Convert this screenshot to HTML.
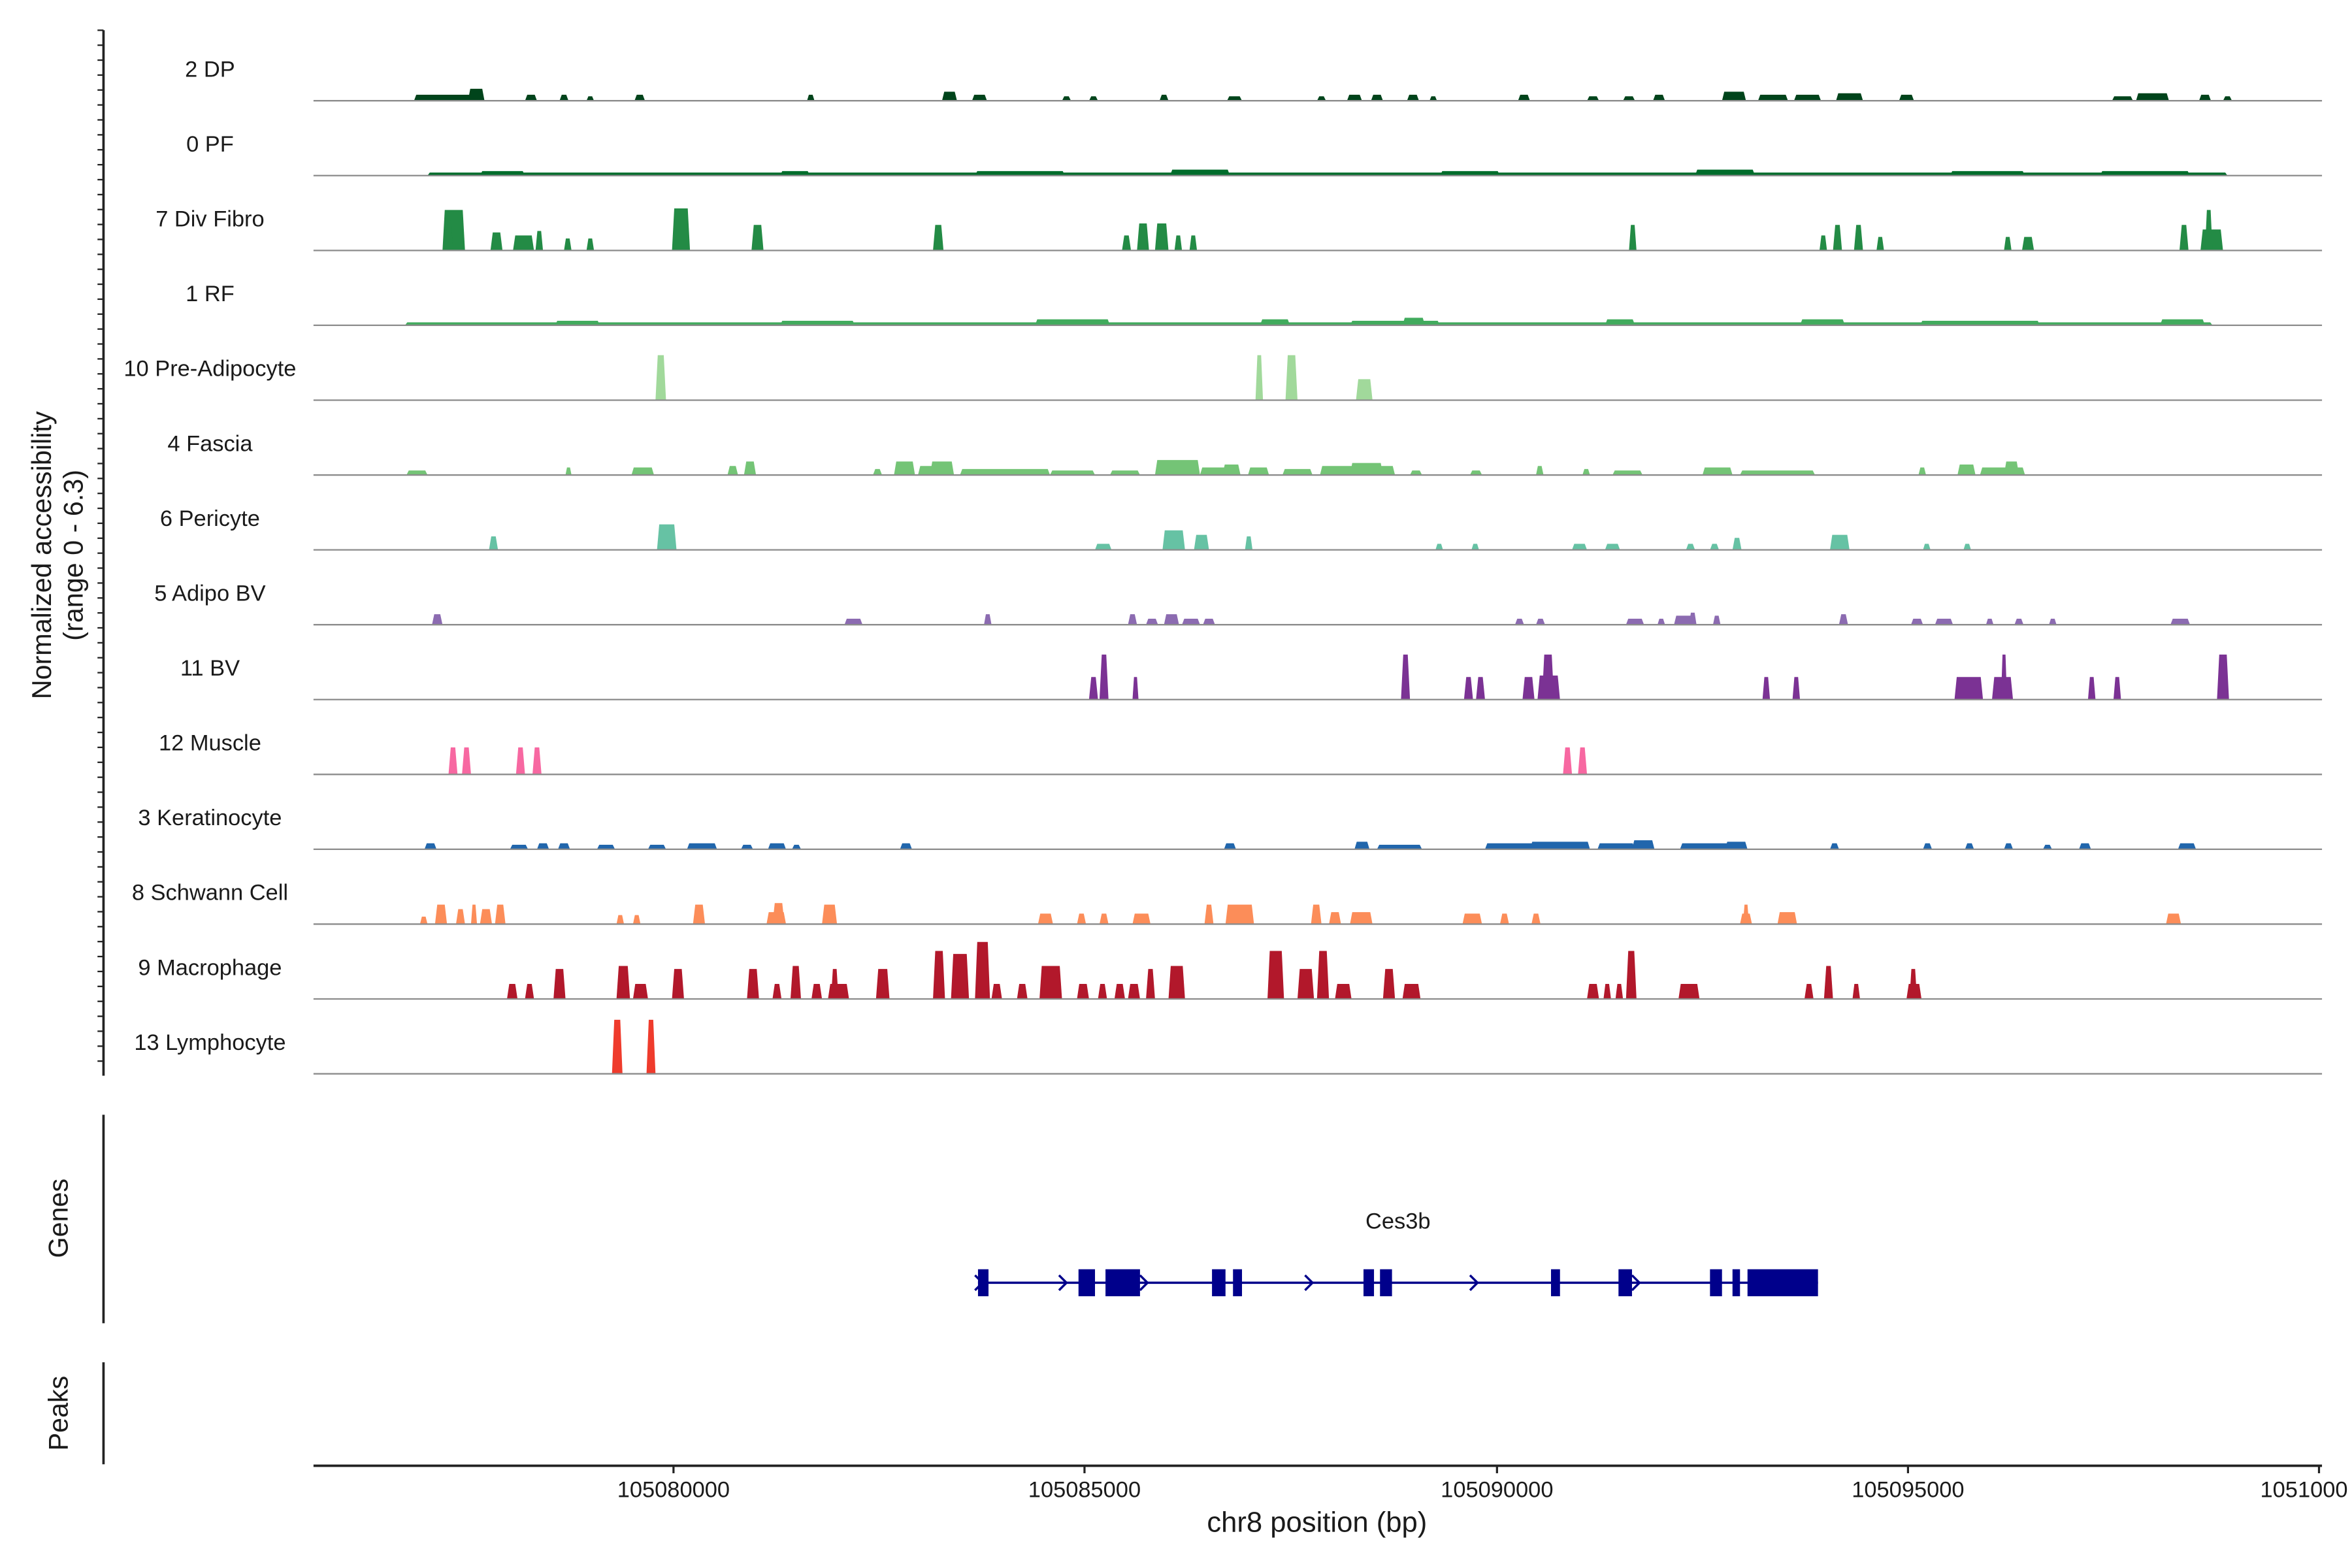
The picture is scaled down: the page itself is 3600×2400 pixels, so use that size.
<!DOCTYPE html>
<html><head><meta charset="utf-8"><style>
html,body{margin:0;padding:0;background:#fff;}
svg{display:block;}
text{font-family:"Liberation Sans",Arial,sans-serif;fill:#1a1a1a;}
</style></head><body>
<svg id="s" xmlns="http://www.w3.org/2000/svg" width="3600" height="2400" viewBox="0 0 1568 1045">
<rect width="1568" height="1045" fill="#fff"/>
<g id="tracks"></g>
<line x1="69" y1="20" x2="69" y2="717" stroke="#222" stroke-width="1.6"/>
<g id="ticks"></g>
<text transform="translate(34,370) rotate(-90)" text-anchor="middle" font-size="18">Normalized accessibility</text>
<text transform="translate(55,370) rotate(-90)" text-anchor="middle" font-size="18">(range 0 - 6.3)</text>
<line x1="69" y1="743" x2="69" y2="882" stroke="#222" stroke-width="1.6"/>
<text transform="translate(45,812) rotate(-90)" text-anchor="middle" font-size="18">Genes</text>
<line x1="69" y1="908" x2="69" y2="976" stroke="#222" stroke-width="1.6"/>
<text transform="translate(45,942) rotate(-90)" text-anchor="middle" font-size="18">Peaks</text>
<text x="932" y="819" text-anchor="middle" font-size="15">Ces3b</text>
<line x1="652" y1="855" x2="1212" y2="855" stroke="#00008b" stroke-width="1.5"/>
<g id="gene" fill="#00008b"></g>
<line x1="209" y1="977" x2="1548" y2="977" stroke="#222" stroke-width="1.6"/>
<g stroke="#222" stroke-width="1.4">
<line x1="449" y1="977" x2="449" y2="982"/><line x1="723" y1="977" x2="723" y2="982"/>
<line x1="998" y1="977" x2="998" y2="982"/><line x1="1272" y1="977" x2="1272" y2="982"/>
<line x1="1546" y1="977" x2="1546" y2="982"/></g>
<g font-size="15" text-anchor="middle">
<text x="449" y="998" fill="#4d4d4d">105080000</text><text x="723" y="998" fill="#4d4d4d">105085000</text>
<text x="998" y="998" fill="#4d4d4d">105090000</text><text x="1272" y="998" fill="#4d4d4d">105095000</text>
<text x="1536" y="998" fill="#4d4d4d">1051000</text></g>
<text x="878" y="1021" text-anchor="middle" font-size="19">chr8 position (bp)</text>
</svg>
<script>
var NS="http://www.w3.org/2000/svg";
function el(t,a,p){var e=document.createElementNS(NS,t);for(var k in a)e.setAttribute(k,a[k]);p.appendChild(e);return e;}
var T=document.getElementById("tracks");
var tracks=[
["2 DP","#00441b",[[276,47,4],[312,11,8],[350,8,4],[373,6,4],[391,5,3],[423,7,4],[538,5,4],[628,10,6],[648,10,4],[708,6,3],[726,6,3],[773,6,4],[818,10,3],[878,6,3],[898,10,4],[914,8,4],[938,8,4],[953,5,3],[1012,8,4],[1058,8,3],[1082,8,3],[1102,8,4],[1148,16,6],[1172,20,4],[1196,18,4],[1224,18,5],[1266,10,4],[1408,14,3],[1424,22,5],[1466,8,4],[1482,6,3]]],
["0 PF","#006d2c",[[285,1200,2],[320,30,3],[520,20,3],[650,60,3],[780,40,4],[960,40,3],[1130,40,4],[1300,50,3],[1400,60,3]]],
["7 Div Fibro","#238b45",[[295,15,27],[297,5,20],[327,8,12],[342,14,10],[357,5,13],[376,5,8],[391,5,8],[448,12,28],[501,8,17],[622,7,17],[748,6,10],[758,8,18],[770,9,18],[783,5,10],[793,5,10],[1086,5,17],[1213,5,10],[1222,6,17],[1236,6,17],[1251,5,9],[1336,5,9],[1348,8,9],[1453,6,17],[1467,15,14],[1470,5,27]]],
["1 RF","#41ab5d",[[270,1205,2],[370,30,3],[520,50,3],[690,50,4],[840,20,4],[900,60,3],[935,15,5],[1070,20,4],[1200,30,4],[1280,80,3],[1440,30,4]]],
["10 Pre-Adipocyte","#a1d99b",[[437,7,30],[837,5,30],[857,8,30],[904,11,14]]],
["4 Fascia","#74c476",[[271,14,3],[377,4,5],[421,15,5],[485,7,6],[496,8,9],[582,6,4],[596,14,9],[612,12,6],[620,16,9],[640,60,4],[700,30,3],[740,20,3],[770,30,10],[800,25,5],[815,12,7],[832,14,5],[855,20,4],[880,50,6],[900,22,8],[940,8,3],[980,8,3],[1024,5,6],[1055,5,4],[1075,20,3],[1135,20,5],[1160,50,3],[1279,5,5],[1305,12,7],[1320,30,5],[1336,10,9]]],
["6 Pericyte","#66c2a4",[[326,6,9],[438,13,17],[730,11,4],[775,15,13],[784,5,10],[796,10,10],[830,5,9],[957,5,4],[981,5,4],[1048,10,4],[1070,10,4],[1124,6,4],[1140,6,4],[1155,6,8],[1220,13,10],[1282,5,4],[1309,5,4]]],
["5 Adipo BV","#8c6bb1",[[288,7,7],[563,12,4],[656,5,7],[752,6,7],[764,8,4],[776,10,7],[788,12,4],[802,8,4],[1010,6,4],[1024,6,4],[1084,12,4],[1105,5,4],[1116,14,6],[1126,5,8],[1142,5,6],[1226,6,7],[1274,8,4],[1290,12,4],[1324,5,4],[1343,6,4],[1366,5,4],[1447,13,4]]],
["11 BV","#7b3294",[[726,6,15],[733,6,30],[755,4,15],[934,6,30],[976,6,15],[984,6,15],[1015,8,15],[1025,15,16],[1028,8,30],[1175,5,15],[1195,5,15],[1303,19,15],[1328,14,15],[1334,4,30],[1392,5,15],[1409,5,15],[1478,8,30]]],
["12 Muscle","#f768a1",[[299,6,18],[308,6,18],[344,6,18],[355,6,18],[1042,6,18],[1052,6,18]]],
["3 Keratinocyte","#2166ac",[[283,8,4],[340,12,3],[358,8,4],[372,8,4],[398,12,3],[432,12,3],[458,20,4],[494,8,3],[512,12,4],[528,6,3],[600,8,4],[816,8,4],[903,10,5],[918,30,3],[990,40,4],[1020,40,5],[1065,25,4],[1088,15,6],[1120,40,4],[1150,15,5],[1220,6,4],[1282,6,4],[1310,6,4],[1336,6,4],[1362,6,3],[1386,8,4],[1452,12,4]]],
["8 Schwann Cell","#fc8d59",[[280,5,5],[290,8,13],[304,6,10],[314,4,13],[320,8,10],[330,7,13],[411,5,6],[422,5,6],[462,8,13],[511,13,8],[515,8,14],[548,10,13],[692,10,7],[718,6,7],[733,6,7],[755,12,7],[803,6,13],[817,19,13],[874,7,13],[886,8,8],[900,15,8],[975,13,7],[1000,6,7],[1021,6,7],[1160,8,7],[1162,4,13],[1185,13,8],[1444,10,7]]],
["9 Macrophage","#b2182b",[[338,7,10],[350,6,10],[369,8,20],[411,9,22],[422,10,10],[448,8,20],[498,8,20],[515,6,10],[527,7,22],[541,7,10],[552,14,10],[554,5,20],[584,9,20],[622,8,32],[634,12,30],[650,10,38],[661,7,10],[678,7,10],[693,15,22],[718,8,10],[732,6,10],[743,7,10],[752,8,10],[764,6,20],[779,11,22],[845,11,32],[865,11,20],[878,8,32],[890,11,10],[922,8,20],[935,12,10],[1058,8,10],[1069,5,10],[1077,5,10],[1084,7,32],[1119,14,10],[1203,6,10],[1216,6,22],[1235,5,10],[1271,10,10],[1273,5,20]]],
["13 Lymphocyte","#ef3b2c",[[408,7,36],[431,6,36]]]
];
tracks.forEach(function(t,i){
 var b=67+i*49.9;
 var lab=el("text",{x:140,y:b-16,"text-anchor":"middle","font-size":"15"},T);lab.textContent=t[0];
 t[2].forEach(function(p){
  var x=p[0],w=p[1],h=p[2],s=Math.min(1.5,w/4);
  el("polygon",{points:x+","+b+" "+(x+s)+","+(b-h)+" "+(x+w-s)+","+(b-h)+" "+(x+w)+","+b,fill:t[1]},T);
 });
 el("line",{x1:209,y1:b,x2:1548,y2:b,stroke:"#8c8c8c","stroke-width":1},T);
});
var K=document.getElementById("ticks");
for(var y=20;y<=717;y+=9.96){el("line",{x1:65,y1:y,x2:69,y2:y,stroke:"#222","stroke-width":1},K);}
var G=document.getElementById("gene");
[[652,7],[719,11],[737,23],[808,9],[822,6],[909,7],[920,8],[1034,6],[1079,9],[1140,8],[1155,5],[1165,47]].forEach(function(e){
 el("rect",{x:e[0],y:846,width:e[1],height:18},G);});
[650,706,760,870,980,1088].forEach(function(x){
 el("polyline",{points:(x)+",850 "+(x+5)+",855 "+(x)+",860",fill:"none",stroke:"#00008b","stroke-width":1.5},G);});
</script>
</body></html>
